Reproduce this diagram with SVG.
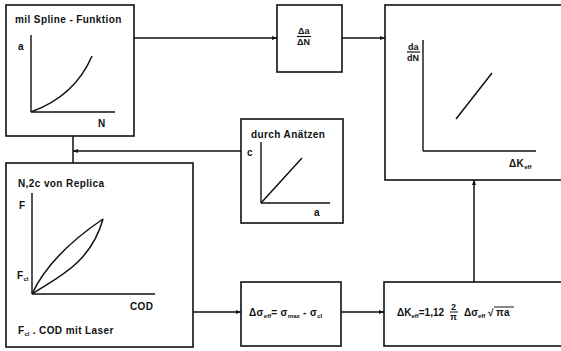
<svg xmlns="http://www.w3.org/2000/svg" width="561" height="351" viewBox="0 0 561 351">
<defs>
<style>
.box{fill:none;stroke:#111;stroke-width:1.6}
.ax{fill:none;stroke:#111;stroke-width:1.4}
.cv{fill:none;stroke:#111;stroke-width:1.5}
.ln{fill:none;stroke:#111;stroke-width:1.5}
text{font-family:"Liberation Sans",Arial,sans-serif;font-weight:bold;font-size:10px;letter-spacing:0.4px;fill:#111}
.sm{font-size:9px;letter-spacing:0}
.tight{letter-spacing:0}
.sub{font-size:6px;letter-spacing:0}
</style>
<marker id="ah" viewBox="0 0 10 10" refX="10" refY="5" markerWidth="5" markerHeight="5" orient="auto" markerUnits="userSpaceOnUse">
<path d="M0,1 L10,5 L0,9 z" fill="#111"/>
</marker>
</defs>
<rect width="561" height="351" fill="#fff"/>

<g id="connectors">
<line class="ln" x1="134" y1="38" x2="277" y2="38" marker-end="url(#ah)"/>
<line class="ln" x1="342" y1="38" x2="385" y2="38" marker-end="url(#ah)"/>
<line class="ln" x1="241" y1="151" x2="73" y2="151" marker-end="url(#ah)"/>
<line class="ln" x1="73" y1="136" x2="73" y2="163"/>
<line class="ln" x1="193" y1="312" x2="241" y2="312" marker-end="url(#ah)"/>
<line class="ln" x1="341" y1="312" x2="384" y2="312" marker-end="url(#ah)"/>
<line class="ln" x1="474" y1="282" x2="474" y2="180" marker-end="url(#ah)"/>
</g>

<g id="spline">
<rect class="box" x="6" y="5" width="128" height="131"/>
<text x="15" y="23">mil Spline - Funktion</text>
<text x="18" y="50">a</text>
<line class="ax" x1="31" y1="35" x2="31" y2="112"/>
<line class="ax" x1="31" y1="112" x2="115" y2="112"/>
<path class="cv" d="M31,112 Q75,96 92,56"/>
<text x="98" y="127">N</text>
</g>

<g id="dadn">
<rect class="box" x="277" y="5" width="65" height="67"/>
<text x="298" y="34" class="sm">Δa</text>
<line x1="297" y1="36.5" x2="311" y2="36.5" stroke="#111" stroke-width="1.2"/>
<text x="297" y="45" class="sm">ΔN</text>
</g>

<g id="result">
<rect class="box" x="385" y="5" width="200" height="175"/>
<text x="408" y="50" class="sm">da</text>
<line x1="407" y1="52" x2="420" y2="52" stroke="#111" stroke-width="1.2"/>
<text x="407" y="61" class="sm">dN</text>
<line class="ax" x1="423" y1="40" x2="423" y2="151"/>
<line class="ax" x1="423" y1="151" x2="536" y2="151"/>
<line class="cv" x1="456" y1="119" x2="492" y2="73"/>
<text x="509" y="167">ΔK<tspan class="sub" dy="2">eff</tspan></text>
</g>

<g id="anaetzen">
<rect class="box" x="241" y="119" width="102" height="104"/>
<text x="251" y="138">durch Anätzen</text>
<text x="247" y="156">c</text>
<line class="ax" x1="261" y1="142" x2="261" y2="203"/>
<line class="ax" x1="261" y1="203" x2="330" y2="203"/>
<line class="cv" x1="261" y1="203" x2="302" y2="158"/>
<text x="314" y="216">a</text>
</g>

<g id="replica">
<rect class="box" x="6" y="163" width="187" height="184"/>
<text x="18" y="187">N,2c von Replica</text>
<text x="19" y="209">F</text>
<text x="17" y="279">F<tspan class="sub" dy="2">cl</tspan></text>
<line class="ax" x1="32" y1="193" x2="32" y2="294"/>
<line class="ax" x1="32" y1="294" x2="155" y2="294"/>
<path class="cv" d="M32,294 C45,266 72,240 103,219"/>
<path class="cv" d="M32,294 C52,280 90,266 103,219"/>
<text x="130" y="310">COD</text>
<text x="18" y="334">F<tspan class="sub" dy="2">cl</tspan><tspan dy="-2"> . COD mit Laser</tspan></text>
</g>

<g id="dsigma">
<rect class="box" x="241" y="282" width="100" height="64"/>
<text x="249" y="316">Δσ<tspan class="sub" dy="2">eff</tspan><tspan dy="-2">= σ</tspan><tspan class="sub" dy="2">max</tspan><tspan dy="-2"> - σ</tspan><tspan class="sub" dy="2">cl</tspan></text>
</g>

<g id="dk">
<rect class="box" x="384" y="282" width="200" height="64"/>
<text x="397" y="316" class="tight">ΔK<tspan class="sub" dy="2">eff</tspan><tspan dy="-2">=1,12</tspan></text>
<text x="451" y="310" class="sm">2</text>
<line x1="450" y1="312" x2="458" y2="312" stroke="#111" stroke-width="1"/>
<text x="450" y="320" class="sm">π</text>
<text x="464" y="316" class="tight">Δσ<tspan class="sub" dy="2">eff</tspan></text>
<text x="488" y="316" class="tight">√</text>
<line x1="494" y1="307" x2="514" y2="307" stroke="#111" stroke-width="1"/>
<text x="496" y="316">πa</text>
</g>
</svg>
